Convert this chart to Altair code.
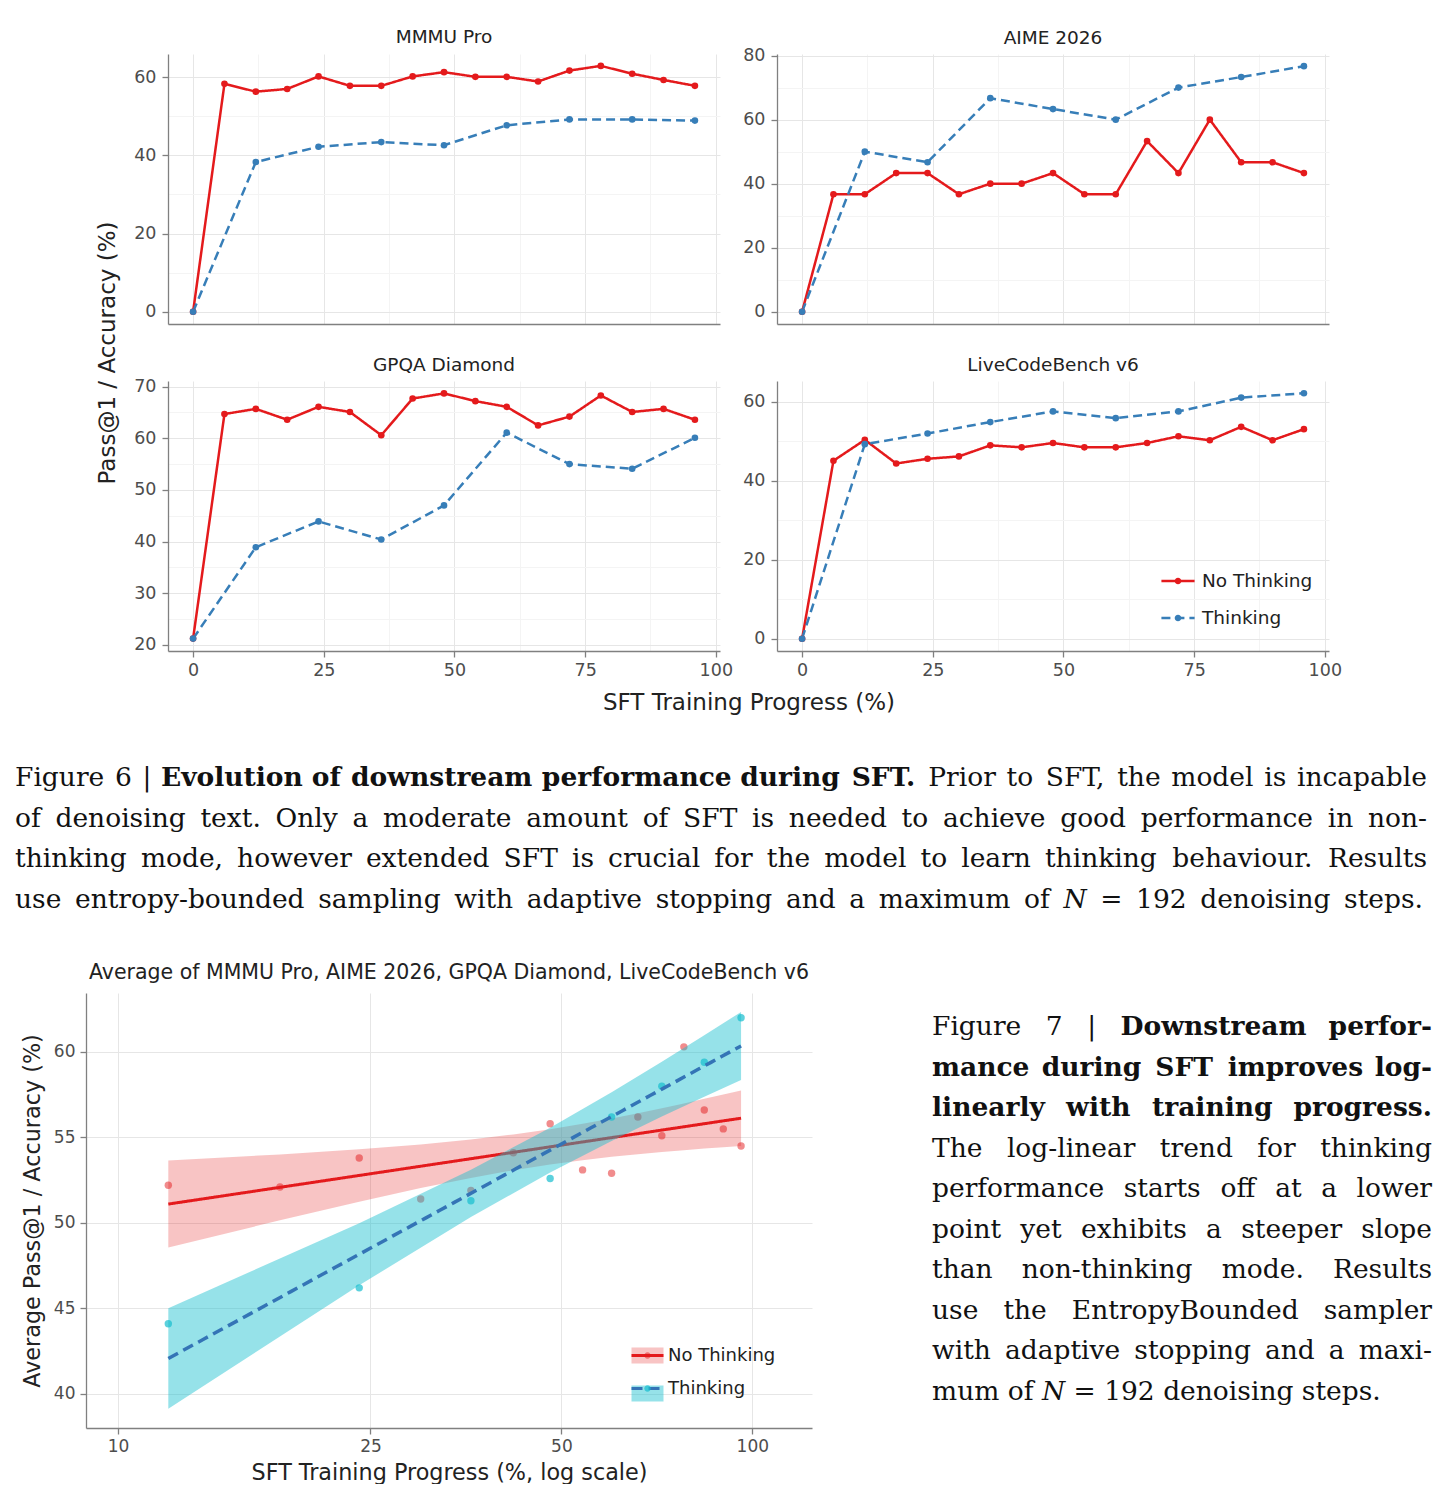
import altair as alt
import numpy as np
import pandas as pd

# ---------------- data ----------------
SERIES = ["No Thinking", "Thinking"]
X_NO_THINK = [0, 6, 12, 18, 24, 30, 36, 42, 48, 54, 60, 66, 72, 78, 84, 90, 96]
X_THINK = [0, 12, 24, 36, 48, 60, 72, 84, 96]

MMMU_NO_THINK = [0.0, 58.3, 56.3, 57.0, 60.2, 57.8, 57.8, 60.2, 61.3, 60.1, 60.1, 58.9, 61.7, 62.9, 60.9, 59.3, 57.8]
MMMU_THINK = [0.0, 38.3, 42.2, 43.4, 42.6, 47.7, 49.2, 49.2, 48.9]
AIME_NO_THINK = [0.0, 36.7, 36.7, 43.3, 43.3, 36.7, 40.0, 40.0, 43.3, 36.7, 36.7, 53.3, 43.3, 60.0, 46.7, 46.7, 43.3]
AIME_THINK = [0.0, 50.0, 46.7, 66.7, 63.3, 60.0, 70.0, 73.3, 76.7]
GPQA_NO_THINK = [21.2, 64.7, 65.7, 63.6, 66.1, 65.1, 60.6, 67.7, 68.7, 67.2, 66.1, 62.5, 64.2, 68.3, 65.1, 65.7, 63.6]
GPQA_THINK = [21.2, 38.9, 43.9, 40.4, 47.0, 61.1, 55.0, 54.1, 60.1]
LCB_NO_THINK = [0.0, 45.1, 50.4, 44.4, 45.6, 46.2, 49.0, 48.5, 49.6, 48.5, 48.5, 49.6, 51.3, 50.3, 53.7, 50.3, 53.1]
LCB_THINK = [0.0, 49.3, 52.0, 54.9, 57.6, 55.9, 57.6, 61.1, 62.2]

AVG_X_NO_THINK = [12, 18, 24, 30, 36, 42, 48, 54, 60, 66, 72, 78, 84, 90, 96]
AVG_NO_THINK = [52.2, 52.1, 53.8, 51.4, 51.9, 54.1, 55.8, 53.1, 52.9, 56.2, 55.1, 60.3, 56.6, 55.5, 54.5]
AVG_X_THINK = [12, 24, 36, 48, 60, 72, 84, 96]
AVG_THINK = [44.1, 46.2, 51.3, 52.6, 56.2, 58.0, 59.4, 62.0]

X_TICKS = [0, 25, 50, 75, 100]
X_MINOR = [12.5, 37.5, 62.5, 87.5]
LOG_TICKS = [10, 25, 50, 100]
AVG_Y_TICKS = [40, 45, 50, 55, 60]

# caption texts: runs of (text, weight, style)
FIG6_LINES = [
    [("Figure 6 |", "normal", "normal"), ("Evolution of downstream performance during SFT.", "bold", "normal"),
     ("Prior to SFT, the model is incapable", "normal", "normal")],
    [("of denoising text. Only a moderate amount of SFT is needed to achieve good performance in non-",
      "normal", "normal")],
    [("thinking mode, however extended SFT is crucial for the model to learn thinking behaviour. Results",
      "normal", "normal")],
    [("use entropy-bounded sampling with adaptive stopping and a maximum of", "normal", "normal"),
     ("N", "normal", "italic"), ("= 192 denoising steps.", "normal", "normal")],
]
FIG7_LINES = [
    [("Figure 7 |", "normal", "normal"), ("Downstream perfor-", "bold", "normal")],
    [("mance during SFT improves log-", "bold", "normal")],
    [("linearly with training progress.", "bold", "normal")],
    [("The log-linear trend for thinking", "normal", "normal")],
    [("performance starts off at a lower", "normal", "normal")],
    [("point yet exhibits a steeper slope", "normal", "normal")],
    [("than non-thinking mode. Results", "normal", "normal")],
    [("use the EntropyBounded sampler", "normal", "normal")],
    [("with adaptive stopping and a maxi-", "normal", "normal")],
    [("mum of", "normal", "normal"), ("N", "normal", "italic"), ("= 192 denoising steps.", "normal", "normal")],
]

# ---------------- styles ----------------
SANS = "DejaVu Sans"
SERIF = "DejaVu Serif"
CAP = 26.5
RED = "#e41a1c"
BLUE = "#377eb8"
LINE_BLUE = "#3474b6"
BAND_COLORS = ["rgba(228,26,28,0.26)", "rgba(23,190,207,0.45)"]
PT_COLORS = ["rgba(228,26,28,0.5)", "rgba(23,190,207,0.7)"]
GRID = "#e6e6e6"
MINOR_GRID = "#f4f4f4"
SPINE = "#808080"
TICK_LABEL = "#4d4d4d"
DARK = "#222222"
CIRCLE_PATH = "M-0.2,0A0.2,0.2,0,1,1,0.2,0A0.2,0.2,0,1,1,-0.2,0Z"
RECT_PATH = "M-1,-0.5L1,-0.5L1,0.5L-1,0.5Z"

PW, PH, GAP = 552, 270, 57

# approximate advance widths (em) of DejaVu Serif, used only to spread justified caption words
CW = dict(zip("abcdefghijklmnopqrstuvwxyz",
              [.596, .640, .560, .640, .592, .370, .640, .644, .320, .310, .606, .320, .948, .644, .602, .640,
               .640, .478, .513, .402, .644, .565, .856, .564, .565, .527]))
CW.update(dict(zip("ABCDEFGHIJKLMNOPQRSTUVWXYZ",
                   [.722, .735, .765, .802, .732, .694, .806, .872, .395, .401, .747, .664, 1.024, .875, .820,
                    .673, .820, .753, .685, .667, .843, .722, 1.028, .712, .660, .695])))
CW.update({d: .636 for d in "0123456789"})
CW.update({" ": .318, ".": .318, ",": .318, "-": .338, "|": .337, "=": .838, "(": .390, ")": .390})


def est_w(s, weight):
    w = sum(CW.get(ch, .6) for ch in s) * CAP
    return w * 1.09 if weight == "bold" else w


def T(px, py, text, align="left", weight="normal", style="normal", size=CAP, font=SERIF, angle=0,
      baseline="alphabetic", color="#111111"):
    return [px, py, text, align, weight, style, size, font, angle, baseline, color]


def caption_line(runs, L, R, y, justify=True):
    words = [(w, wt, st) for text, wt, st in runs for w in text.split()]
    widths = [est_w(w, wt) for w, wt, st in words]
    n = len(words)
    gap = (R - L - sum(widths)) / (n - 1) if (justify and n > 1) else .318 * CAP
    out, x = [], L
    for i, ((w, wt, st), wd) in enumerate(zip(words, widths)):
        if i == 0:
            out.append(T(x, y, w, weight=wt, style=st))
        elif i == n - 1 and justify:
            out.append(T(R, y, w, align="right", weight=wt, style=st))
        else:
            out.append(T(x + wd / 2, y, w, align="center", weight=wt, style=st))
        x += wd + gap
    return out


def panel(title, nt, t, ydom, yticks, yminor, bottom_row, legend=False, title_dy=0):
    df = pd.concat([
        pd.DataFrame({"x": X_NO_THINK, "y": nt, "series": SERIES[0]}),
        pd.DataFrame({"x": X_THINK, "y": t, "series": SERIES[1]}),
    ], ignore_index=True)
    df["series_pt"] = df["series"]
    xs = alt.Scale(domain=[-4.8, 100.8], nice=False, zero=False)
    ys = alt.Scale(domain=ydom, nice=False, zero=False)
    minor = alt.Chart(df).mark_point(opacity=0).encode(
        x=alt.X("x:Q", scale=xs, axis=alt.Axis(orient="top", values=X_MINOR, grid=True, gridColor=MINOR_GRID,
                                               labels=False, ticks=False, domain=False, title=None)),
        y=alt.Y("y:Q", scale=ys, axis=alt.Axis(orient="right", values=yminor, grid=True, gridColor=MINOR_GRID,
                                               labels=False, ticks=False, domain=False, title=None)),
    )
    xaxis = alt.Axis(values=X_TICKS, title=None, grid=True, labels=bottom_row, ticks=bottom_row,
                     tickSize=6, labelPadding=4, labelFontSize=17.5, format="d")
    yaxis = alt.Axis(values=yticks, title=None, grid=True, tickSize=6, labelPadding=6, labelFontSize=17.5, format="d")
    if legend:
        common = dict(title=None, orient="none", legendX=383, legendY=182, direction="vertical",
                      labelFontSize=18.5, labelFont=SANS, labelColor=DARK, rowPadding=9,
                      labelOffset=6, padding=0, symbolSize=1100)
        line_leg = alt.Legend(symbolType="stroke", symbolStrokeWidth=2.5, zindex=1, **common)
        pt_leg = alt.Legend(symbolType=CIRCLE_PATH, symbolStrokeWidth=2.5, symbolStrokeColor="transparent",
                            labelOpacity=0, labelExpr="''", zindex=2, **common)
    else:
        line_leg = None
        pt_leg = None
    lines = alt.Chart(df).mark_line(strokeWidth=2.5).encode(
        x=alt.X("x:Q", scale=xs, axis=xaxis),
        y=alt.Y("y:Q", scale=ys, axis=yaxis),
        color=alt.Color("series:N", scale=alt.Scale(domain=SERIES, range=[RED, BLUE]), legend=line_leg),
        strokeDash=alt.StrokeDash("series:N", scale=alt.Scale(domain=SERIES, range=[[1, 0], [9, 5]]),
                                  legend=line_leg),
    )
    pts = alt.Chart(df).mark_circle(size=44, opacity=1).encode(
        x=alt.X("x:Q", scale=xs, axis=None),
        y=alt.Y("y:Q", scale=ys, axis=None),
        fill=alt.Fill("series_pt:N", scale=alt.Scale(range=[RED, BLUE]), legend=pt_leg),
    )
    return alt.layer(minor, lines, pts).resolve_axis(x="independent", y="independent").properties(
        width=PW, height=PH,
        title=alt.TitleParams(title, fontSize=18.5, font=SANS, fontWeight="normal", color=DARK, offset=8,
                              frame="group", dy=title_dy),
    )


def ci_band(xv, yv):
    u = np.log10(np.array(xv, dtype=float))
    y = np.array(yv, dtype=float)
    n = len(u)
    b, a = np.polyfit(u, y, 1)
    resid = y - (a + b * u)
    s = np.sqrt(resid @ resid / (n - 2))
    ub = u.mean()
    sxx = ((u - ub) ** 2).sum()
    tval = {13: 2.160, 6: 2.447}[n - 2]
    se = s * np.sqrt(1.0 / n + (u - ub) ** 2 / sxx)
    fit = a + b * u
    return fit - tval * se, fit + tval * se


def avg_chart():
    avg = pd.concat([
        pd.DataFrame({"x": AVG_X_NO_THINK, "y": AVG_NO_THINK, "series": SERIES[0]}),
        pd.DataFrame({"x": AVG_X_THINK, "y": AVG_THINK, "series": SERIES[1]}),
    ], ignore_index=True)
    avg["series_pt"] = avg["series"]
    lo0, hi0 = ci_band(AVG_X_NO_THINK, AVG_NO_THINK)
    lo1, hi1 = ci_band(AVG_X_THINK, AVG_THINK)
    band = pd.concat([
        pd.DataFrame({"x": AVG_X_NO_THINK, "lo": lo0, "hi": hi0, "series": SERIES[0]}),
        pd.DataFrame({"x": AVG_X_THINK, "lo": lo1, "hi": hi1, "series": SERIES[1]}),
    ], ignore_index=True)
    xs = alt.Scale(type="log", domain=[8.9, 124.2], nice=False)
    ys = alt.Scale(domain=[38.0, 63.45], nice=False, zero=False)
    xaxis = alt.Axis(values=LOG_TICKS, format="d", title="SFT Training Progress (%, log scale)", grid=True,
                     tickSize=6, labelPadding=4, labelFontSize=17, titleFontSize=22.3, titleFontWeight="normal",
                     titleColor=DARK, titlePadding=7)
    yaxis = alt.Axis(values=AVG_Y_TICKS, title=None, grid=True, tickSize=6, labelPadding=5, labelFontSize=17)
    common = dict(title=None, orient="none", legendX=544, legendY=345, direction="vertical",
                  labelFontSize=18, labelFont=SANS, labelColor=DARK, rowPadding=6, labelOffset=3,
                  padding=0, symbolSize=1024)
    band_leg = alt.Legend(symbolType=RECT_PATH, symbolStrokeWidth=3, symbolStrokeColor="transparent",
                          labelOpacity=0, labelExpr="''", zindex=1, **common)
    line_leg = alt.Legend(symbolType="stroke", symbolStrokeWidth=3, zindex=2, **common)
    pt_leg = alt.Legend(symbolType=CIRCLE_PATH, symbolStrokeWidth=3, symbolStrokeColor="transparent",
                        labelOpacity=0, labelExpr="''", zindex=3, **common)
    layers = []
    for i, s in enumerate(SERIES):
        pts = alt.Chart(avg).transform_filter(alt.datum.series == s).mark_circle(size=55, opacity=1).encode(
            x=alt.X("x:Q", scale=xs, axis=xaxis),
            y=alt.Y("y:Q", scale=ys, axis=yaxis),
            color=alt.Color("series_pt:N", scale=alt.Scale(range=PT_COLORS), legend=pt_leg),
        )
        bnd = alt.Chart(band).transform_filter(alt.datum.series == s).mark_area(opacity=1).encode(
            x=alt.X("x:Q", scale=xs, axis=xaxis),
            y=alt.Y("lo:Q", scale=ys, axis=yaxis),
            y2="hi:Q",
            fill=alt.Fill("series:N", scale=alt.Scale(domain=SERIES, range=BAND_COLORS), legend=band_leg),
        )
        line = alt.Chart(avg).transform_filter(alt.datum.series == s).transform_regression(
            "x", "y", method="log", extent=[12, 96], groupby=["series"]
        ).mark_line(strokeWidth=3 if i == 0 else 3.5).encode(
            x=alt.X("x:Q", scale=xs, axis=xaxis),
            y=alt.Y("y:Q", scale=ys, axis=yaxis),
            stroke=alt.Stroke("series:N", scale=alt.Scale(range=[RED, LINE_BLUE]), legend=line_leg),
            strokeDash=alt.StrokeDash("series:N", scale=alt.Scale(range=[[1, 0], [11, 6]]), legend=line_leg),
        )
        layers += [pts, bnd, line]
    return alt.layer(*layers).properties(width=726, height=435)


def canvas(rows, w, h):
    df = pd.DataFrame(rows, columns=["px", "py", "text", "align", "weight", "style", "size", "font", "angle",
                                     "baseline", "color"])
    layers = []
    keys = ["align", "weight", "style", "size", "font", "angle", "baseline", "color"]
    for key, g in df.groupby(keys, sort=False):
        p = dict(zip(keys, key))
        layers.append(alt.Chart(g.reset_index(drop=True)).mark_text(
            align=str(p["align"]), fontWeight=str(p["weight"]), fontStyle=str(p["style"]),
            fontSize=float(p["size"]), font=str(p["font"]), angle=int(p["angle"]),
            baseline=str(p["baseline"]), color=str(p["color"]),
        ).encode(
            x=alt.X("px:Q", scale=None, axis=None),
            y=alt.Y("py:Q", scale=None, axis=None),
            text="text:N",
        ))
    return alt.layer(*layers).properties(width=w, height=h)


def blank(w, h):
    return canvas([T(1, h / 2, "", size=1, baseline="middle")], w, h)


# ---------------- texts (layout) ----------------
ylab = canvas([T(100, 299, "Pass@1 / Accuracy (%)", align="center", size=23, font=SANS, angle=270,
                 baseline="middle", color=DARK)], 160, PH)

r3_rows = [
    T(741, 52, "SFT Training Progress (%)", align="center", size=23, font=SANS, baseline="middle", color=DARK),
    T(441, 322, "Average of MMMU Pro, AIME 2026, GPQA Diamond, LiveCodeBench v6", align="center", size=20.5,
      font=SANS, baseline="middle", color=DARK),
]
for k, runs in enumerate(FIG6_LINES):
    r3_rows += caption_line(runs, 7, 1419 if k < 3 else 1415, 135 + 40.7 * k)
r3 = canvas(r3_rows, 160, 342)

ylab2 = canvas([T(25, 218, "Average Pass@1 / Accuracy (%)", align="center", size=22.3, font=SANS, angle=270,
                  baseline="middle", color=DARK)], 78, 435)

fig7_rows = []
for k, runs in enumerate(FIG7_LINES):
    fig7_rows += caption_line(runs, 120, 620, 42 + 40.56 * k, justify=(k < 9))
fig7 = canvas(fig7_rows, 627, 435)

# ---------------- panels ----------------
tl = panel("MMMU Pro", MMMU_NO_THINK, MMMU_THINK, [-3.14, 65.94], [0, 20, 40, 60], [10, 30, 50], False)
tr = panel("AIME 2026", AIME_NO_THINK, AIME_THINK, [-3.83, 80.5], [0, 20, 40, 60, 80], [10, 30, 50, 70], False,
           title_dy=9)
bl = panel("GPQA Diamond", GPQA_NO_THINK, GPQA_THINK, [18.8, 71.1], [20, 30, 40, 50, 60, 70],
           [25, 35, 45, 55, 65], True, title_dy=5)
br = panel("LiveCodeBench v6", LCB_NO_THINK, LCB_THINK, [-3.11, 65.31], [0, 20, 40, 60], [10, 30, 50], True,
           legend=True, title_dy=1)

CH = dict(color="independent", fill="independent", stroke="independent", strokeDash="independent")


def ind(c):
    return c.resolve_scale(**CH).resolve_legend(**CH)


cells = [
    blank(160, 46), blank(PW, 46), blank(GAP, 46), blank(PW, 46),
    ylab, tl, blank(GAP, PH), tr,
    blank(160, GAP), blank(PW, GAP), blank(GAP, GAP), blank(PW, GAP),
    blank(160, PH), bl, blank(GAP, PH), br,
    r3, blank(PW, 342), blank(GAP, 342), blank(PW, 342),
]
top_block = ind(alt.concat(*cells, columns=4, spacing=0, bounds="flush", align="each"))
bottom_block = ind(alt.hconcat(ylab2, avg_chart(), fig7, spacing=0, bounds="flush"))

chart = ind(alt.vconcat(top_block, bottom_block, spacing=0)).properties(padding=0).configure_view(
    stroke=None
).configure_axis(
    gridColor=GRID, gridWidth=1, domainColor=SPINE, domainWidth=1.3, tickColor=SPINE, tickWidth=1.3,
    labelFont=SANS, titleFont=SANS, labelColor=TICK_LABEL,
).configure_title(font=SANS, fontWeight="normal")

chart.save("out.html", embed_options={"renderer": "svg", "actions": False})
